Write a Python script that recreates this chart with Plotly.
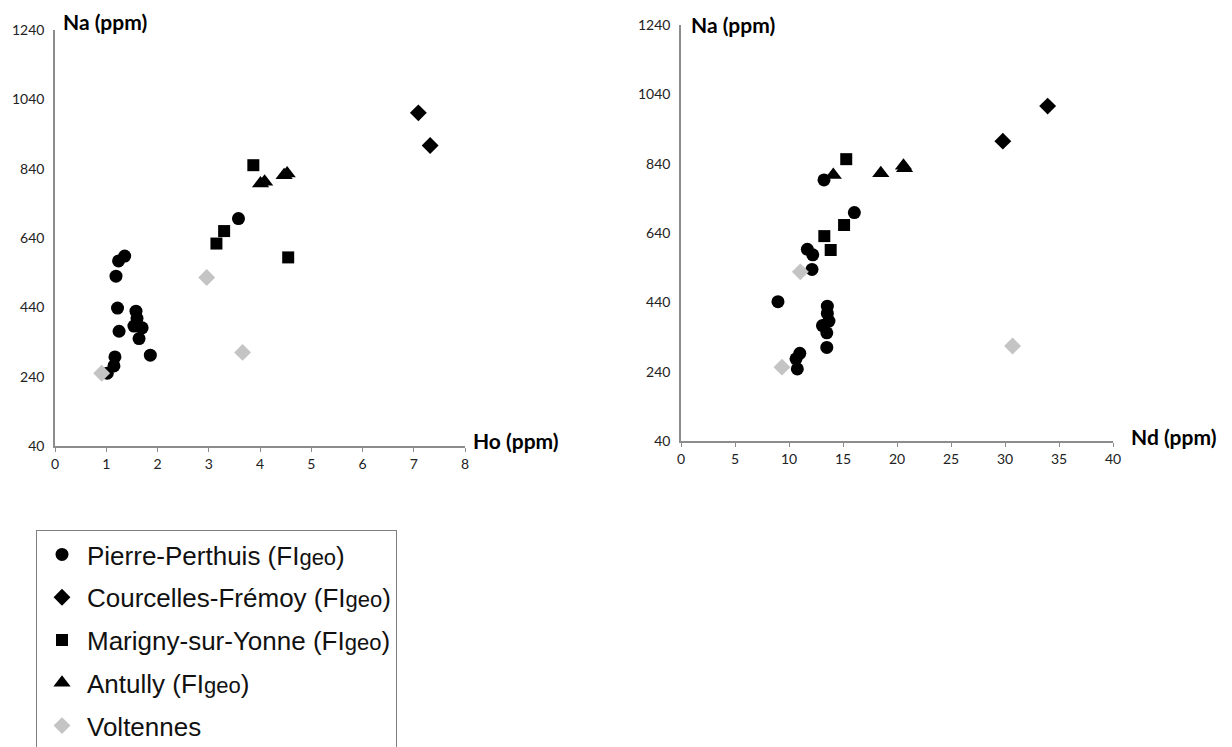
import plotly.graph_objects as go

# ---- data ----
geo = "<span style='font-size:22px'>geo</span>"
series_names = ["Pierre-Perthuis (FI" + geo + ")",
                "Courcelles-Frémoy (FI" + geo + ")",
                "Marigny-sur-Yonne (FI" + geo + ")",
                "Antully (FI" + geo + ")",
                "Voltennes"]

# Left panel: Ho (ppm) vs Na (ppm)
pp_ho = [1.02, 1.15, 1.17, 1.25, 1.22, 1.19, 1.24, 1.36, 1.58, 1.60, 1.54, 1.70, 1.64, 1.86, 3.58]
pp_na_ho = [250, 271, 297, 371, 438, 530, 574, 588, 429, 408, 386, 381, 350, 302, 696]
cf_ho = [7.09, 7.32]
cf_na_ho = [1001, 907]
ms_ho = [3.87, 3.30, 3.15, 4.55]
ms_na_ho = [850, 660, 624, 584]
an_ho = [4.01, 4.09, 4.47, 4.53]
an_na_ho = [797, 802, 821, 826]
vo_ho = [0.91, 2.96, 3.66]
vo_na_ho = [250, 526, 310]

# Right panel: Nd (ppm) vs Na (ppm)
pp_nd = [13.24, 16.05, 11.7, 12.2, 12.13, 8.98, 13.55, 13.55, 13.7, 13.1, 13.5, 13.5, 11.0, 10.65, 10.77]
pp_na_nd = [793, 699, 593, 577, 535, 442, 429, 408, 386, 373, 352, 310, 293, 277, 248]
cf_nd = [33.95, 29.8]
cf_na_nd = [1006, 905]
ms_nd = [15.3, 15.1, 13.27, 13.86]
ms_na_nd = [853, 663, 631, 591]
an_nd = [14.1, 18.5, 20.6, 20.7]
an_na_nd = [807, 812, 834, 827]
vo_nd = [9.35, 11.05, 30.7]
vo_na_nd = [253, 528, 314]

y_ticks = [40, 240, 440, 640, 840, 1040, 1240]

# ---- styles ----
symbols = ["circle", "diamond", "square", "triangle-up", "diamond"]
colors = ["#000000", "#000000", "#000000", "#000000", "#c4c4c4"]
sizes = [13, 13, 12, 15, 13]

OFF = 8  # page body margin
W, H = 1232 - OFF, 747 - OFF

def px_x(p):
    return (p - OFF) / W

def px_y(p):
    return 1 - (p - OFF) / H

fig = go.Figure()

left = [(pp_ho, pp_na_ho), (cf_ho, cf_na_ho), (ms_ho, ms_na_ho), (an_ho, an_na_ho), (vo_ho, vo_na_ho)]
right = [(pp_nd, pp_na_nd), (cf_nd, cf_na_nd), (ms_nd, ms_na_nd), (an_nd, an_na_nd), (vo_nd, vo_na_nd)]

for i, (x, y) in enumerate(left):
    fig.add_trace(go.Scatter(x=x, y=y, mode="markers", name=series_names[i],
                             legendgroup=str(i), showlegend=True,
                             marker=dict(symbol=symbols[i], color=colors[i], size=sizes[i], line=dict(width=0)),
                             xaxis="x", yaxis="y"))
for i, (x, y) in enumerate(right):
    fig.add_trace(go.Scatter(x=x, y=y, mode="markers", name=series_names[i],
                             legendgroup=str(i), showlegend=False,
                             marker=dict(symbol=symbols[i], color=colors[i], size=sizes[i], line=dict(width=0)),
                             xaxis="x2", yaxis="y2"))

tickfont = dict(family="Lato, Open Sans, sans-serif", size=14, color="#222222")
axcol = "#8c8c8c"

def xax(domain, rng, dtick):
    return dict(domain=domain, range=rng, dtick=dtick, tick0=0, showgrid=False, zeroline=False,
                showline=True, linecolor=axcol, linewidth=1.5, ticks="outside", ticklen=4,
                tickcolor=axcol, tickwidth=1, tickfont=tickfont, fixedrange=True, automargin=False)

def yax(domain, anchor):
    return dict(domain=domain, range=[40, 1240], tickvals=y_ticks, showgrid=False, zeroline=False,
                showline=True, linecolor=axcol, linewidth=1.5, ticks="", tickfont=tickfont,
                anchor=anchor, ticklabelstandoff=6, fixedrange=True, automargin=False)

fig.update_layout(
    width=W, height=H,
    margin=dict(l=0, r=0, t=0, b=0, autoexpand=False),
    plot_bgcolor="white", paper_bgcolor="white",
    xaxis=dict(**xax([px_x(55), px_x(465)], [0, 8], 1), anchor="y"),
    yaxis=yax([px_y(446), px_y(30)], "x"),
    xaxis2=dict(**xax([px_x(681), px_x(1113)], [0, 40], 5), anchor="y2"),
    yaxis2=yax([px_y(441), px_y(25)], "x2"),
    showlegend=True,
    legend=dict(x=px_x(36), y=px_y(530), xanchor="left", yanchor="top",
                bordercolor="#7f7f7f", borderwidth=1, bgcolor="white",
                font=dict(family="Liberation Sans, Arial, sans-serif", size=26, color="#111111"),
                tracegroupgap=6, itemsizing="trace", itemwidth=40),
)

titlefont = dict(family="Lato, Open Sans, sans-serif", size=21, color="#000000")
ann = [
    ("<b>Na (ppm)</b>", 62, 8, "top"),
    ("<b>Na (ppm)</b>", 690, 11, "top"),
    ("<b>Ho (ppm)</b>", 472, 440, "middle"),
    ("<b>Nd (ppm)</b>", 1130, 437, "middle"),
]
for t, px, py, ya in ann:
    fig.add_annotation(text=t, x=px_x(px), y=px_y(py), xref="paper", yref="paper",
                       xanchor="left", yanchor=ya, showarrow=False, font=titlefont, borderpad=0)

fig.write_html("out.html")
